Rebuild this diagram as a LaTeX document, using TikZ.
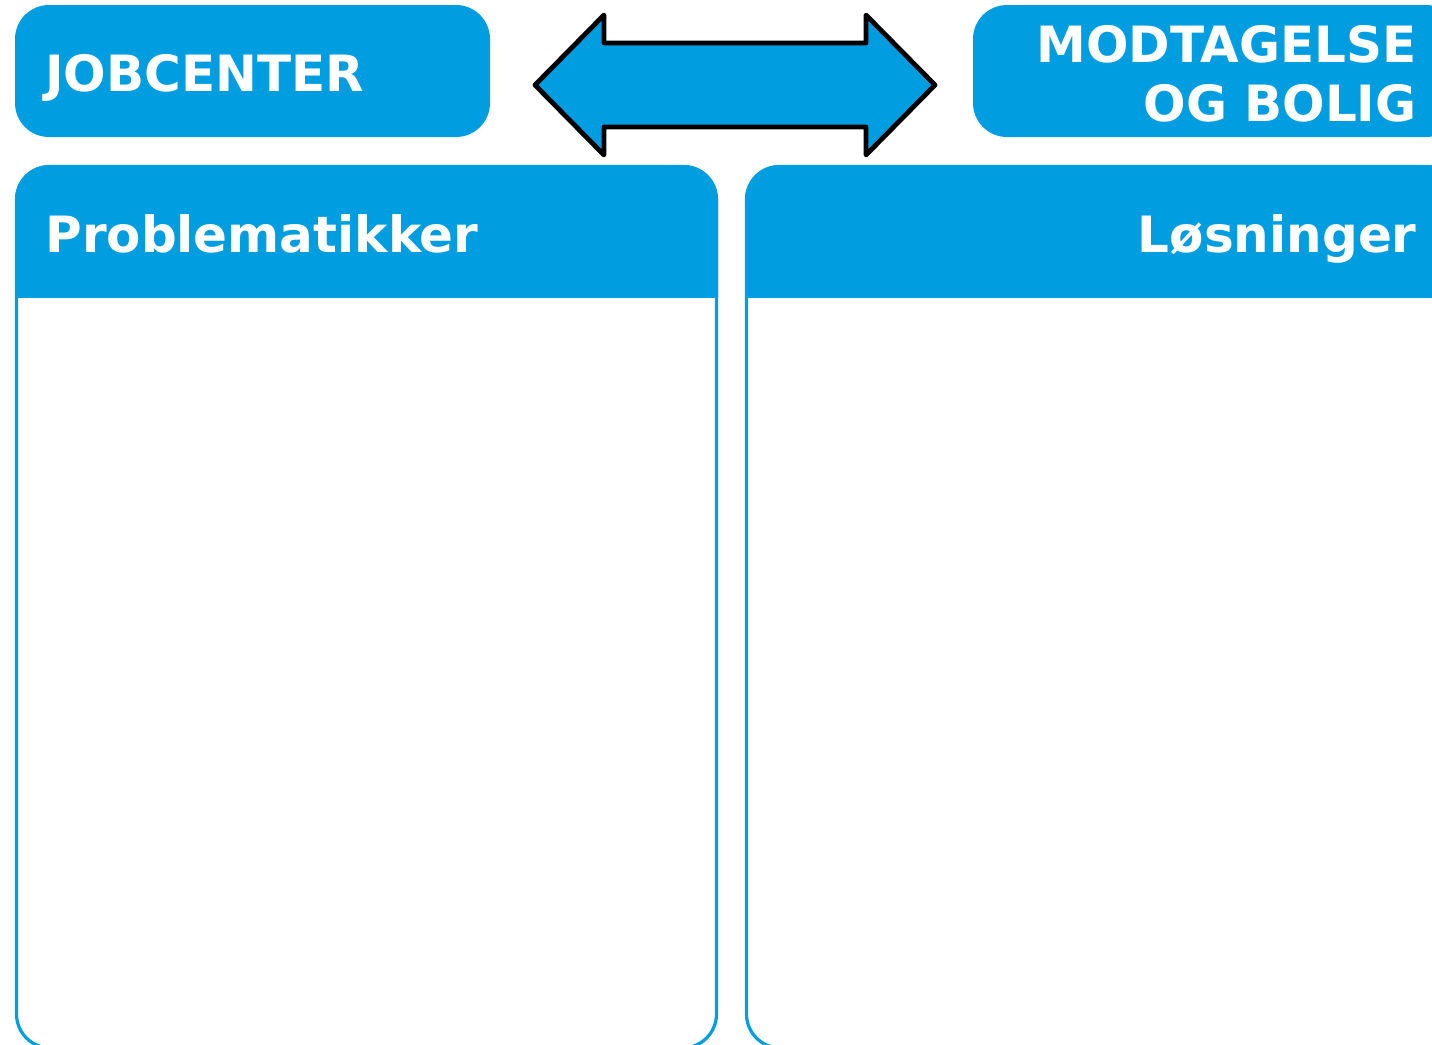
\documentclass[tikz,border=0pt]{standalone}
\usepackage{fontspec}
\setmainfont{DejaVu Sans}
\definecolor{boxblue}{RGB}{0,158,224}

\begin{document}
\begin{tikzpicture}[x=0.5pt, y=-0.5pt,
        bluebox/.style={fill=boxblue, rounded corners=17pt},
        panelline/.style={draw=boxblue, line width=1.6pt, rounded corners=17pt},
        headtext/.style={text=white, font=\bfseries\fontsize{25}{29.5}\selectfont, inner sep=0pt},
        bigarrow/.style={draw=black, fill=boxblue, line width=2.4pt, line join=round}]
    \useasboundingbox (0,0) rectangle (1432,1045);
    \clip (0,0) rectangle (1432,1045);

    % top boxes
    \fill[bluebox] (15,5) rectangle (490,137);
    \fill[bluebox] (973,5) rectangle (1460,137);
    \node[headtext, anchor=base west] (jobcenter) at (45,91) {JOBCENTER};
    \node[headtext, anchor=base east] (modtagelse) at (1417,62) {MODTAGELSE};
    \node[headtext, anchor=base east] (bolig) at ([yshift=-29.5pt]modtagelse.base east) {OG BOLIG};

    % double arrow between them
    \draw[bigarrow] (535,85) -- (604,15) -- (604,43) -- (866,43) -- (866,15) -- (935,85)
        -- (866,155) -- (866,127) -- (604,127) -- (604,155) -- cycle;

    % panels
    \begin{scope}
        \clip (0,165) rectangle (1432,297);
        \fill[bluebox] (15,165) rectangle (718,1048);
        \fill[bluebox] (745,165) rectangle (1460,1048);
    \end{scope}
    \draw[panelline] (16.5,166.5) rectangle (716.5,1048);
    \draw[panelline] (746.5,166.5) rectangle (1460,1048);
    \node[headtext, anchor=base west] (problem) at (45,252) {Problematikker};
    \node[headtext, anchor=base east] (loesning) at (1417,252) {Løsninger};
\end{tikzpicture}
\end{document}
